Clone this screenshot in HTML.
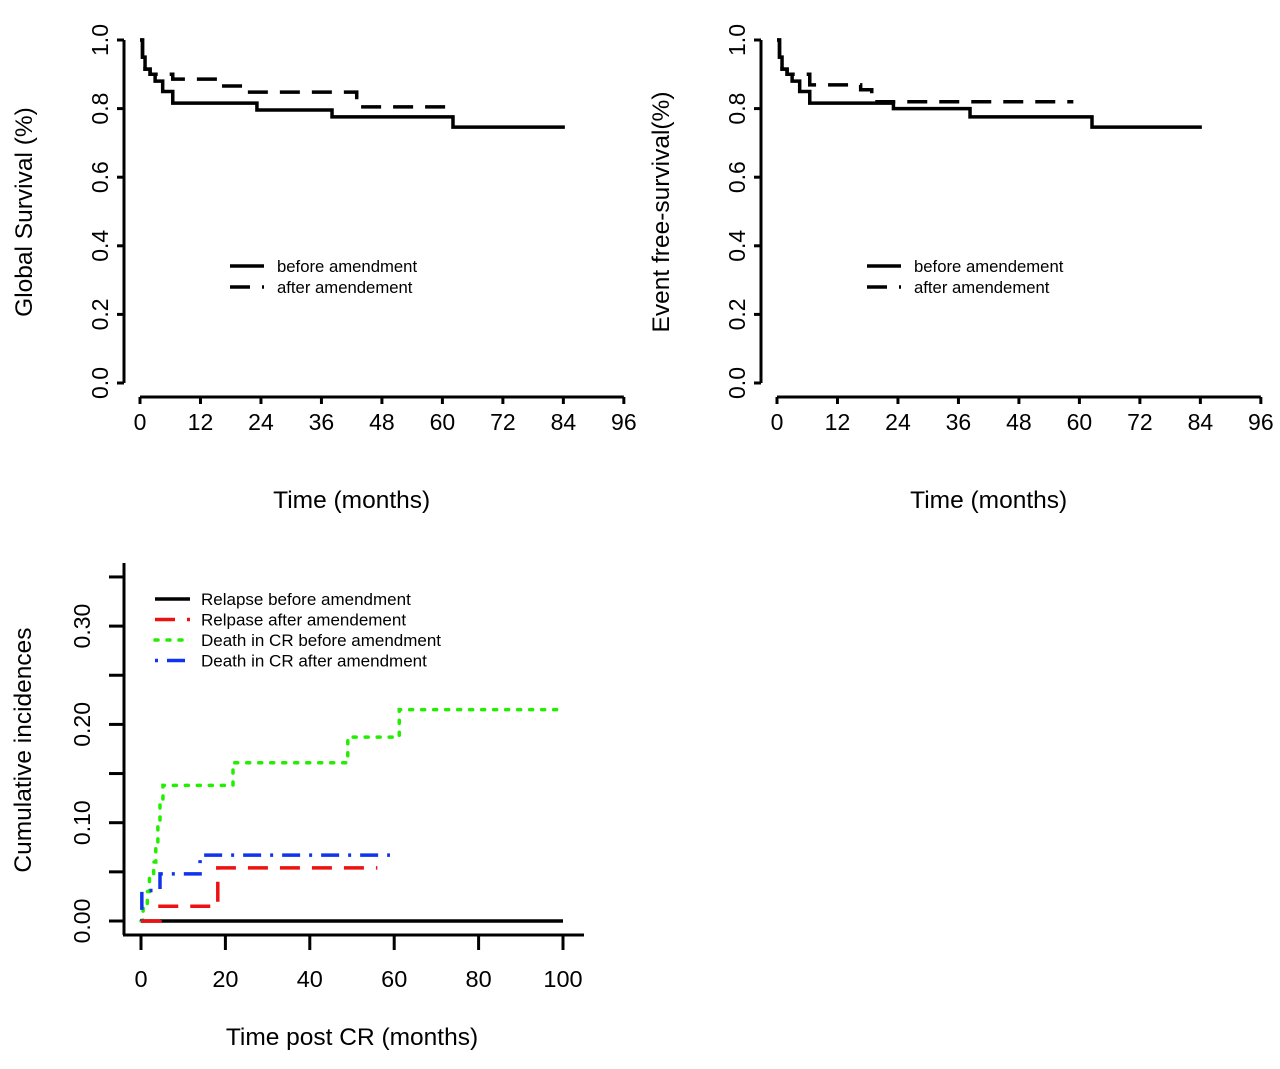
<!DOCTYPE html>
<html><head><meta charset="utf-8"><style>
html,body{margin:0;padding:0;background:#fff;}
svg{display:block;font-family:"Liberation Sans",Arial,sans-serif;}
</style></head><body>
<svg id="chart" width="1280" height="1069" viewBox="0 0 1280 1069">
<g id="p1"></g>
<g id="p2"></g>
<g id="p3"></g>
</svg>
<script>
// Panel 1: Global survival
const osMonthsBefore = [0, 0.5, 1, 2, 3, 4.5, 6.5, 23.2, 38.1, 62.1, 84.3];
const osSurvBefore   = [1, 0.95, 0.915, 0.9, 0.88, 0.85, 0.816, 0.796, 0.776, 0.746, 0.746];
const osMonthsAfter  = [0, 0.5, 1, 2, 6.5, 16, 21.4, 43, 61];
const osSurvAfter    = [1, 0.95, 0.915, 0.9, 0.886, 0.866, 0.848, 0.805, 0.805];
// Panel 2: Event-free survival
const efsMonthsBefore = [0, 0.5, 1, 2, 3, 4.5, 6.5, 23.1, 38.3, 62.5, 84.3];
const efsSurvBefore   = [1, 0.95, 0.915, 0.9, 0.88, 0.85, 0.816, 0.8, 0.776, 0.746, 0.746];
const efsMonthsAfter  = [0, 0.5, 1, 2, 6.5, 16.6, 18.8, 58.8];
const efsSurvAfter    = [1, 0.95, 0.915, 0.9, 0.869, 0.855, 0.82, 0.82];
const survXTicks = [0, 12, 24, 36, 48, 60, 72, 84, 96];
const survYTicks = [0, 0.2, 0.4, 0.6, 0.8, 1.0];
// Panel 3: Cumulative incidences
const ciRelBeforeT = [0, 100];
const ciRelBeforeV = [0, 0];
const ciRelAfterT  = [0, 4.5, 18.2, 56];
const ciRelAfterV  = [0, 0.015, 0.054, 0.054];
const ciDeathBeforeT = [0, 0.5, 1.5, 2, 3, 3.5, 4, 4.5, 5.2, 21.8, 49, 61.2, 100];
const ciDeathBeforeV = [0, 0.016, 0.03, 0.045, 0.06, 0.08, 0.1, 0.12, 0.138, 0.161, 0.187, 0.215, 0.215];
const ciDeathAfterT  = [0, 0.2, 4.5, 14, 59];
const ciDeathAfterV  = [0, 0.031, 0.048, 0.067, 0.067];
const ciXTicks = [0, 20, 40, 60, 80, 100];
const ciYTicks = [0, 0.05, 0.10, 0.15, 0.20, 0.25, 0.30, 0.35];
const ciYLabels = ["0.00", "", "0.10", "", "0.20", "", "0.30", ""];

const NS = "http://www.w3.org/2000/svg";
function mk(parent, tag, attrs, text) {
  const e = document.createElementNS(NS, tag);
  for (const k in attrs) e.setAttribute(k, attrs[k]);
  if (text !== undefined) e.textContent = text;
  parent.appendChild(e);
  return e;
}
function stepPath(ts, vs, sx, sy) {
  let d = "M" + sx(ts[0]) + "," + sy(vs[0]);
  for (let i = 1; i < ts.length; i++) {
    d += " H" + sx(ts[i]) + " V" + sy(vs[i]);
  }
  return d;
}

function survPanel(g, x0, ytitle, leg1, leg2, tb, vb, ta, va, legX) {
  const sx = t => x0 + 16 + t * 5.04;
  const sy = v => 383 - v * 343;
  const ax = x0;
  let e = mk(g, "line", {x1: ax, y1: sy(0), x2: ax, y2: sy(1), stroke: "#000", "stroke-width": 3});
  
  
  survYTicks.forEach(v => {
    let t = mk(g, "line", {x1: ax - 7, y1: sy(v), x2: ax, y2: sy(v), stroke: "#000", "stroke-width": 3});
    
    
    let l = mk(g, "text", {x: 0, y: 0, "font-size": 23, "text-anchor": "middle", transform: "translate(" + (ax - 16) + "," + sy(v) + ") rotate(-90)"}, v.toFixed(1));
    
    
  });
  e = mk(g, "line", {x1: sx(0), y1: 397, x2: sx(96), y2: 397, stroke: "#000", "stroke-width": 3});
  
  
  survXTicks.forEach(v => {
    let t = mk(g, "line", {x1: sx(v), y1: 397, x2: sx(v), y2: 404, stroke: "#000", "stroke-width": 3});
    
    
    let l = mk(g, "text", {x: sx(v), y: 430, "font-size": 23, "text-anchor": "middle"}, String(v));
    
    
  });
  e = mk(g, "text", {x: sx(42), y: 508, "font-size": 24.5, "text-anchor": "middle"}, "Time (months)");
  
  
  e = mk(g, "text", {x: 0, y: 0, "font-size": 24.5, "text-anchor": "middle", transform: "translate(" + (ax - 92) + ",212) rotate(-90)"}, ytitle);
  
  
  e = mk(g, "path", {d: stepPath(tb, vb, sx, sy), fill: "none", stroke: "#000", "stroke-width": 3.5});
  
  
  e = mk(g, "path", {d: stepPath(ta, va, sx, sy), fill: "none", stroke: "#000", "stroke-width": 3.5, "stroke-dasharray": "20,12"});
  
  
  e = mk(g, "line", {x1: legX, y1: 266, x2: legX + 34, y2: 266, stroke: "#000", "stroke-width": 3.5});
  
  
  e = mk(g, "line", {x1: legX, y1: 287, x2: legX + 34, y2: 287, stroke: "#000", "stroke-width": 3.5, "stroke-dasharray": "20,12"});
  
  
  e = mk(g, "text", {x: legX + 47, y: 272, "font-size": 16.7}, leg1);
  
  
  e = mk(g, "text", {x: legX + 47, y: 293, "font-size": 16.7}, leg2);
  
  
}
survPanel(document.getElementById("p1"), 124, "Global Survival (%)", "before amendment", "after amendement", osMonthsBefore, osSurvBefore, osMonthsAfter, osSurvAfter, 230);
survPanel(document.getElementById("p2"), 761, "Event free-survival(%)", "before amendement", "after amendement", efsMonthsBefore, efsSurvBefore, efsMonthsAfter, efsSurvAfter, 867);

(function(){
  const g = document.getElementById("p3");
  const sx = t => 141 + t * 4.22;
  const sy = v => 921 - v * 983;
  let e = mk(g, "line", {x1: 124, y1: 563, x2: 124, y2: 935, stroke: "#000", "stroke-width": 3});
  
  
  e = mk(g, "line", {x1: 123, y1: 935, x2: 584, y2: 935, stroke: "#000", "stroke-width": 3});
  
  
  ciYTicks.forEach((v, i) => {
    let t = mk(g, "line", {x1: 109, y1: sy(v), x2: 124, y2: sy(v), stroke: "#000", "stroke-width": 3});
    
    
    if (ciYLabels[i]) {
      let l = mk(g, "text", {x: 0, y: 0, "font-size": 23, "text-anchor": "middle", transform: "translate(90," + sy(v) + ") rotate(-90)"}, ciYLabels[i]);
      
      
    }
  });
  ciXTicks.forEach(v => {
    let t = mk(g, "line", {x1: sx(v), y1: 935, x2: sx(v), y2: 950, stroke: "#000", "stroke-width": 3});
    
    
    let l = mk(g, "text", {x: sx(v), y: 987, "font-size": 23.5, "text-anchor": "middle"}, String(v));
    
    
  });
  e = mk(g, "text", {x: 352, y: 1045, "font-size": 24.5, "text-anchor": "middle"}, "Time post CR (months)");
  
  
  e = mk(g, "text", {x: 0, y: 0, "font-size": 24.5, "text-anchor": "middle", transform: "translate(31,750) rotate(-90)"}, "Cumulative incidences");
  
  
  const series = [
    [ciRelBeforeT, ciRelBeforeV, "#000", "none", "relapse-before-curve"],
    [ciDeathBeforeT, ciDeathBeforeV, "#22ee00", "3,9", "death-before-curve"],
    [ciDeathAfterT, ciDeathAfterV, "#1133ee", "3,9,18,9", "death-after-curve"],
    [ciRelAfterT, ciRelAfterV, "#ee1111", "20,12", "relapse-after-curve"]
  ];
  series.forEach(s => {
    let p = mk(g, "path", {d: stepPath(s[0], s[1], sx, sy), fill: "none", stroke: s[2], "stroke-width": 3.5, "stroke-dasharray": s[3], "stroke-linecap": s[3] === "3,9" ? "round" : "butt"});
    
    
  });
  const leg = [
    ["Relapse before amendment", "#000", "none"],
    ["Relpase after amendement", "#ee1111", "20,12"],
    ["Death in CR before amendment", "#22ee00", "3,9"],
    ["Death in CR after amendment", "#1133ee", "3,9,18,9"]
  ];
  leg.forEach((L, i) => {
    const y = 599 + i * 20.5;
    let l = mk(g, "line", {x1: 155, y1: y, x2: 190, y2: y, stroke: L[1], "stroke-width": 3.5, "stroke-dasharray": L[2], "stroke-linecap": L[2] === "3,9" ? "round" : "butt"});
    
    
    let t = mk(g, "text", {x: 201, y: y + 6, "font-size": 17}, L[0]);
    
    
  });
})();
</script>
</body></html>
